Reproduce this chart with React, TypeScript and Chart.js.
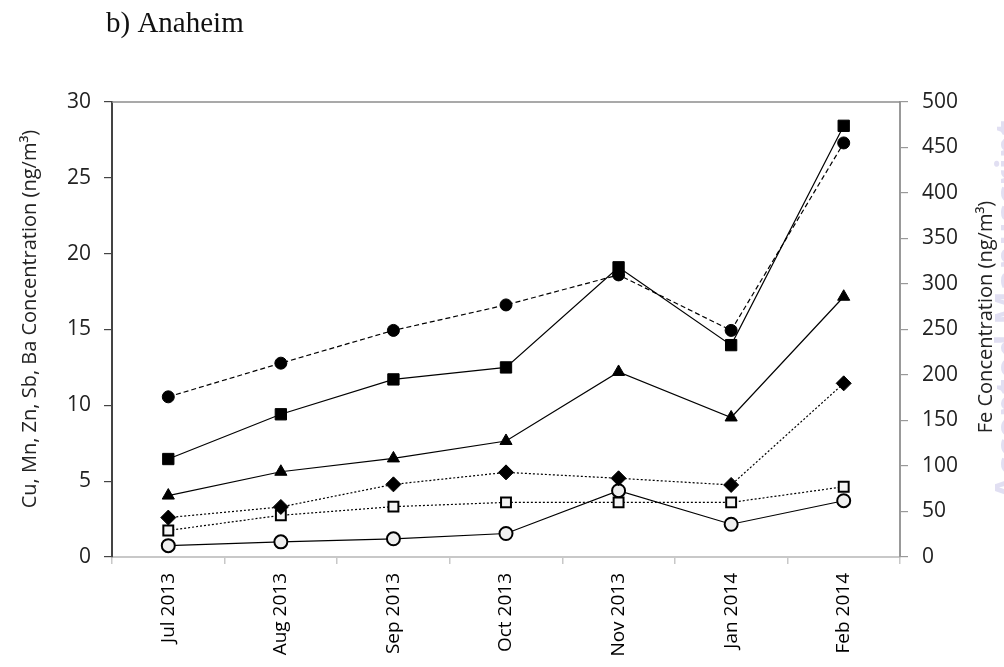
import React, { useEffect, useRef } from "react";
import { Chart, registerables } from "chart.js";

Chart.register(...registerables);

const categories = ["Jul 2013", "Aug 2013", "Sep 2013", "Oct 2013", "Nov 2013", "Jan 2014", "Feb 2014"];
// Fe on right axis (ng/m3)
const feValues = [176, 213, 249, 277, 310, 249, 455];
// Left axis series (ng/m3)
const filledSquareValues = [6.46, 9.41, 11.71, 12.5, 19.1, 13.97, 28.43];
const triangleValues = [4.05, 5.62, 6.5, 7.65, 12.2, 9.2, 17.16];
const diamondValues = [2.6, 3.3, 4.79, 5.58, 5.19, 4.75, 11.45];
const openSquareValues = [1.75, 2.75, 3.32, 3.6, 3.6, 3.6, 4.63];
const openCircleValues = [0.75, 1.0, 1.2, 1.55, 4.37, 2.16, 3.71];

const leftTicks = [0, 5, 10, 15, 20, 25, 30];
const rightTicks = [0, 50, 100, 150, 200, 250, 300, 350, 400, 450, 500];

const titleText = "b) Anaheim";
const leftAxisTitle = "Cu, Mn, Zn, Sb, Ba Concentration (ng/m³)";
const rightAxisTitle = "Fe Concentration (ng/m³)";
const watermarkText = "Accepted Manuscript";

export default function App() {
  const ref = useRef<HTMLCanvasElement | null>(null);

  useEffect(() => {
    document.body.style.margin = "0";
    const canvas = ref.current;
    if (!canvas) return;
    const sans = "'Open Sans', 'Noto Sans', sans-serif";

    const drawVertical = (ctx: any, text: string, x: number, y: number) => {
      ctx.save();
      ctx.translate(x, y);
      ctx.rotate(-Math.PI / 2);
      ctx.textAlign = "center";
      ctx.textBaseline = "middle";
      ctx.fillText(text, 0, 0);
      ctx.restore();
    };

    const decor = {
      id: "decor",
      beforeDraw(chart: any) {
        const ctx = chart.ctx;
        ctx.save();
        ctx.fillStyle = "#fff";
        ctx.fillRect(0, 0, chart.width, chart.height);
        ctx.fillStyle = "rgba(175,170,220,0.38)";
        ctx.font = "bold 36px 'Open Sans', sans-serif";
        drawVertical(ctx, watermarkText, 1011, 310);
        ctx.restore();
      },
      afterDraw(chart: any) {
        const ctx = chart.ctx;
        const a = chart.chartArea;
        ctx.save();
        ctx.strokeStyle = "#8c8c8c";
        ctx.lineWidth = 1.5;
        ctx.beginPath();
        ctx.moveTo(a.left, a.top);
        ctx.lineTo(a.right, a.top);
        ctx.stroke();
        ctx.fillStyle = "#111";
        ctx.font = "29px 'Liberation Serif', 'Times New Roman', serif";
        ctx.textBaseline = "alphabetic";
        ctx.textAlign = "left";
        ctx.fillText(titleText, 106, 32);
        ctx.fillStyle = "#222";
        ctx.font = "20px " + sans;
        drawVertical(ctx, leftAxisTitle, 30, 319);
        drawVertical(ctx, rightAxisTitle, 986, 317);
        ctx.restore();
      },
    };

    const lineBase = {
      borderColor: "#000",
      borderWidth: 1.2,
      pointBorderColor: "#000",
      tension: 0,
      fill: false,
    };

    const chart = new Chart(canvas, {
      type: "line",
      data: {
        labels: categories,
        datasets: [
          {
            ...lineBase,
            label: "Fe",
            data: feValues,
            yAxisID: "y1",
            borderDash: [5, 3],
            pointStyle: "circle",
            pointRadius: 6,
            pointBackgroundColor: "#000",
            pointBorderWidth: 1,
          },
          {
            ...lineBase,
            label: "Ba",
            data: filledSquareValues,
            yAxisID: "y",
            pointStyle: "rect",
            pointRadius: 8,
            pointBackgroundColor: "#000",
            pointBorderWidth: 1,
          },
          {
            ...lineBase,
            label: "Zn",
            data: triangleValues,
            yAxisID: "y",
            pointStyle: "triangle",
            pointRadius: 7,
            pointBackgroundColor: "#000",
            pointBorderWidth: 1,
          },
          {
            ...lineBase,
            label: "Cu",
            data: diamondValues,
            yAxisID: "y",
            borderDash: [2, 2],
            pointStyle: "rectRot",
            pointRadius: 7.5,
            pointBackgroundColor: "#000",
            pointBorderWidth: 1,
          },
          {
            ...lineBase,
            label: "Mn",
            data: openSquareValues,
            yAxisID: "y",
            borderDash: [2, 2],
            pointStyle: "rect",
            pointRadius: 7,
            pointBackgroundColor: "#f4f4f4",
            pointBorderWidth: 2,
          },
          {
            ...lineBase,
            label: "Sb",
            data: openCircleValues,
            yAxisID: "y",
            pointStyle: "circle",
            pointRadius: 6.5,
            pointBackgroundColor: "#efefef",
            pointBorderWidth: 2,
          },
        ],
      },
      options: {
        responsive: false,
        animation: false,
        layout: { padding: { top: 102, left: 0, right: 0, bottom: 0 } },
        plugins: {
          legend: { display: false },
          tooltip: { enabled: false },
          title: { display: false },
        },
        scales: {
          x: {
            offset: true,
            grid: {
              offset: true,
              drawOnChartArea: false,
              drawTicks: true,
              tickLength: 7,
              color: "#c8c8c8",
              lineWidth: 1.5,
            },
            border: { display: true, color: "#c8c8c8", width: 2 },
            ticks: {
              maxRotation: 90,
              minRotation: 90,
              autoSkip: false,
              padding: 9,
              color: "#000",
              font: { family: sans, size: 19 },
            },
            afterFit(scale: any) {
              scale.height = 110;
            },
          },
          y: {
            position: "left",
            min: 0,
            max: 30,
            afterBuildTicks(scale: any) {
              scale.ticks = leftTicks.map((v) => ({ value: v }));
            },
            grid: {
              drawOnChartArea: false,
              drawTicks: true,
              tickLength: 8,
              color: "#444",
              lineWidth: 1.2,
            },
            border: { display: true, color: "#444", width: 2 },
            ticks: {
              padding: 13,
              color: "#222",
              font: { family: sans, size: 21 },
            },
            title: { display: false },
            afterFit(scale: any) {
              scale.width = 112;
            },
          },
          y1: {
            position: "right",
            min: 0,
            max: 500,
            afterBuildTicks(scale: any) {
              scale.ticks = rightTicks.map((v) => ({ value: v }));
            },
            grid: {
              drawOnChartArea: false,
              drawTicks: true,
              tickLength: 8,
              color: "#999",
              lineWidth: 1.2,
            },
            border: { display: true, color: "#999", width: 2 },
            ticks: {
              padding: 14,
              color: "#222",
              font: { family: sans, size: 21 },
            },
            title: { display: false },
            afterFit(scale: any) {
              scale.width = 104;
            },
          },
        },
      },
      plugins: [decor],
    } as any);

    return () => chart.destroy();
  }, []);

  return (
    <div style={{ width: 1004, height: 667 }}>
      <canvas ref={ref} width={1004} height={667} style={{ display: "block" }} />
    </div>
  );
}
